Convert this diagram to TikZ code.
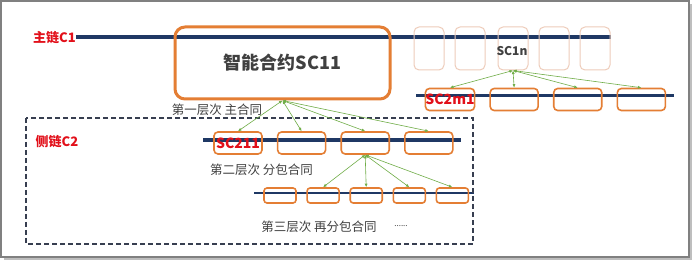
\documentclass[tikz,border=0pt]{standalone}
\usepackage{fontspec}
\setmainfont{Noto Sans CJK SC}
\usepackage{tikz}
\usetikzlibrary{arrows.meta, positioning}
\definecolor{chainblue}{RGB}{31,56,100}
\definecolor{boxorange}{RGB}{228,126,52}
\definecolor{fadeorange}{RGB}{238,204,186}
\definecolor{linkgreen}{RGB}{112,173,71}
\definecolor{labelred}{RGB}{226,16,26}
\definecolor{textgray}{RGB}{64,64,64}
\definecolor{dashgray}{RGB}{55,62,80}
\definecolor{framegray}{RGB}{128,128,128}
\definecolor{shadowgray}{RGB}{190,190,190}
\tikzset{
  contract/.style={rectangle, draw=boxorange, line width=1.6pt, rounded corners=4pt,
    inner sep=0pt, minimum width=48pt, minimum height=22pt},
  subcontract/.style={contract, minimum width=32pt, minimum height=15pt, rounded corners=3pt},
  ghost/.style={rectangle, draw=fadeorange, line width=1pt, rounded corners=5pt,
    inner sep=0pt, minimum width=30pt, minimum height=43pt},
  chain/.style={line width=4pt, color=chainblue},
  link/.style={{Latex[length=3.5pt,width=3pt]}-{Latex[length=3.5pt,width=3pt]},
    line width=0.6pt, color=linkgreen},
  chainlabel/.style={font=\fontsize{13}{15}\selectfont\bfseries, text=labelred, inner sep=0pt},
  tagred/.style={font=\fontsize{14}{16}\selectfont\bfseries, text=labelred},
  layer/.style={font=\fontsize{12.5}{14}\selectfont, text=textgray, inner sep=0pt}
}

\begin{document}
\begin{tikzpicture}[x=1pt, y=-1pt]
\useasboundingbox (0,0) rectangle (694,261);

% frame with shadow
\fill[shadowgray] (4,4) rectangle (692,260);
\draw[framegray, fill=white, line width=1.5pt] (1,1) rectangle (689,257);

% chains
\coordinate (c1w) at (76,37.5);
\coordinate (c1e) at (611,37.5);
\coordinate (c2mw) at (416,96);
\coordinate (c2me) at (674,96);
\coordinate (c21w) at (203,140);
\coordinate (c21e) at (461,140);
\coordinate (c3w) at (254,193);
\coordinate (c3e) at (474,193);
\draw[chain] (c1w) -- (c1e);
\draw[chain, line width=3pt] (c2mw) -- (c2me);
\draw[chain, line width=3.5pt] (c21w) -- (c21e);
\draw[chain, line width=1.4pt] (c3w) -- (c3e);
\node[chainlabel, anchor=east] (c1label) at (c1w) {主链C1};

% side chain frame
\draw[dashgray, line width=1.3pt, dash pattern=on 5pt off 3pt] (26,118) rectangle (473,244);
\node[chainlabel] (c2label) at (57,142) {侧链C2};

% main contract
\node[rectangle, draw=boxorange, line width=3pt, rounded corners=10pt, minimum width=215pt,
  minimum height=72pt, font=\fontsize{18}{22}\selectfont\bfseries, text=textgray]
  (sc11) at (282.5,63) {智能合约SC11};

% faded contracts on main chain
\node[ghost] (g1) at (429,48.5) {};
\node[ghost, right=10pt of g1] (g2) {};
\node[ghost, right=12pt of g2] (sc1n) {};
\node[ghost, right=10pt of sc1n] (g4) {};
\node[ghost, right=10pt of g4] (g5) {};
\node[font=\fontsize{12}{14}\selectfont\bfseries, text=textgray] (sc1ntext) at (512,51) {SC1n};

% second level under SC1n
\node[contract, tagred] (m1) at (450,99.5) {SC2m1};
\node[contract, right=14pt of m1] (m2) {};
\node[contract, right=14pt of m2] (m3) {};
\node[contract, right=14pt of m3] (m4) {};

% second level under SC11
\node[contract, tagred] (s1) at (238,143) {SC211};
\node[contract, right=14pt of s1] (s2) {};
\node[contract, right=14pt of s2] (s3) {};
\node[contract, right=14pt of s3] (s4) {};

% third level
\node[subcontract] (t1) at (280,195.5) {};
\node[subcontract, right=9.5pt of t1] (t2) {};
\node[subcontract, right=9.5pt of t2] (t3) {};
\node[subcontract, right=9.5pt of t3] (t4) {};
\node[subcontract, right=9.5pt of t4] (t5) {};

% links
\draw[link] (sc11.south) -- (s1.north);
\draw[link] (sc11.south) -- (s2.north);
\draw[link] (sc11.south) -- (s3.north);
\draw[link] (sc11.south) -- (s4.north);
\draw[link] (sc1n.south) -- (m1.north);
\draw[link] (sc1n.south) -- (m2.north);
\draw[link] (sc1n.south) -- (m3.north);
\draw[link] (sc1n.south) -- (m4.north);
\draw[link] (s3.south) -- (t2.north);
\draw[link] (s3.south) -- (t3.north);
\draw[link] (s3.south) -- (t4.north);
\draw[link] (s3.south) -- (t5.north);

% layer captions
\node[layer] (lay1) at (217,110) {第一层次 主合同};
\node[layer] (lay2) at (261.5,170) {第二层次 分包合同};
\node[layer] (lay3) at (319,227) {第三层次 再分包合同};
\node[layer, font=\fontsize{8}{10}\selectfont] (more) at (401,226) {......};
\end{tikzpicture}
\end{document}
